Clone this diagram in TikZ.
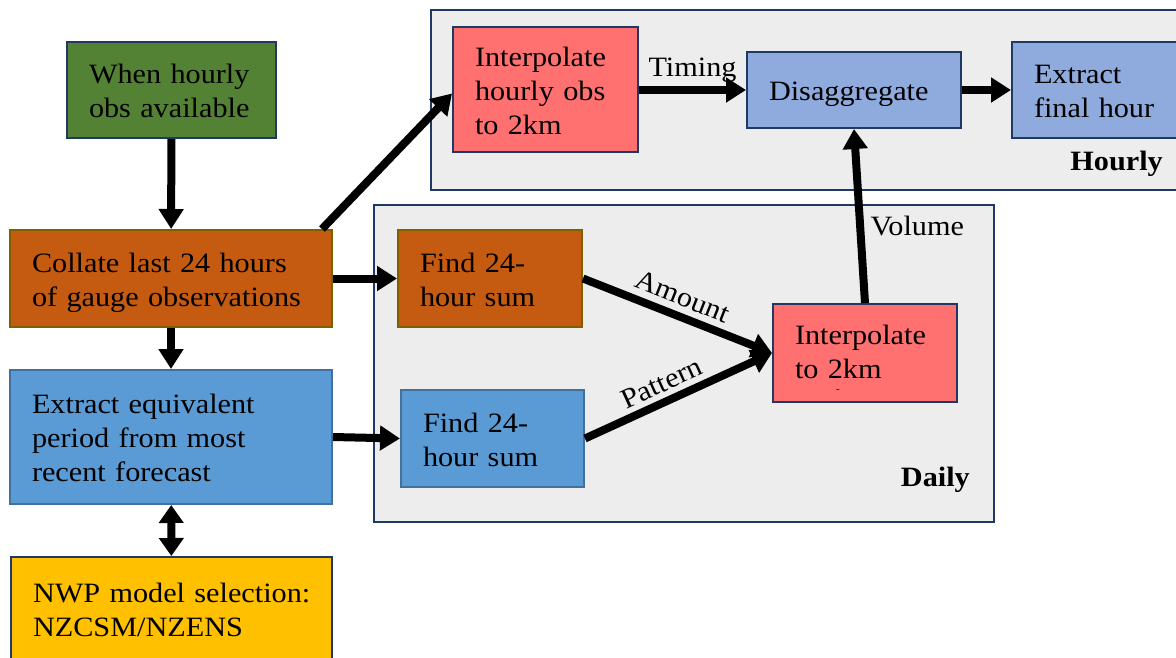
\documentclass[tikz,border=0pt]{standalone}
\usepackage{fontspec}
\setmainfont{Liberation Serif}[FakeStretch=1.08]
\usetikzlibrary{arrows.meta,calc}
\definecolor{navy}{HTML}{203864}
\definecolor{grpfill}{HTML}{EDEDED}
\definecolor{cgreen}{HTML}{548235}
\definecolor{corange}{HTML}{C55A11}
\definecolor{corangeb}{HTML}{7F6000}
\definecolor{cblue}{HTML}{5B9BD5}
\definecolor{cblueb}{HTML}{41719C}
\definecolor{cyellow}{HTML}{FFC000}
\definecolor{cred}{HTML}{FF7171}
\definecolor{cpale}{HTML}{8FAADC}
\begin{document}
\begin{tikzpicture}[x=1pt,y=-1pt,
  font=\fontsize{28}{34}\selectfont,
  box/.style={draw, line width=2pt, inner xsep=22pt, inner ysep=0pt, align=left, anchor=north west, outer sep=1pt,
    execute at begin node={\rule{0pt}{30.5pt}},
    execute at end node={\rule[-9.5pt]{0pt}{9.5pt}}},
  liftbox/.style={execute at end node={\rule[-14pt]{0pt}{14pt}}},
  grp/.style={draw=navy, fill=grpfill, line width=2pt, anchor=north west, inner sep=0pt},
  arr/.style={line width=8pt, -{Triangle[length=20pt,width=24pt]}},
  darr/.style={line width=8pt, {Triangle[length=18pt,width=24pt]}-{Triangle[length=18pt,width=24pt]}},
  lbl/.style={font=\fontsize{28}{34}\selectfont},
  glbl/.style={anchor=base east, inner sep=0pt, font=\fontsize{28}{34}\selectfont\bfseries}
]
\useasboundingbox (0,0) rectangle (1176,657);
\clip (0,0) rectangle (1176,657);

% groups
\node[grp, minimum width=780pt, minimum height=180pt] (hourlyG) at (430,9) {};
\node[grp, minimum width=620pt, minimum height=317pt] (dailyG) at (373,204) {};
\node[glbl] (hourlyL) at (1163,170) {Hourly};
\node[glbl] (dailyL) at (970,486) {Daily};

% left column
\node[box, fill=cgreen, draw=navy, text width=165pt, minimum height=96pt] (when) at (66,41) {When hourly\\obs available};
\node[box, fill=corange, draw=corangeb, text width=278pt, minimum height=97pt] (collate) at (9,229) {\mbox{Collate last 24 hours}\\\mbox{of gauge observations}};
\node[box, fill=cblue, draw=cblueb, text width=278pt, minimum height=134pt] (extract) at (9,369) {Extract equivalent\\period from most\\recent forecast};
\node[box, fill=cyellow, draw=navy, text width=277pt, minimum height=103pt] (nwp) at (10,556) {\mbox{NWP model selection:}\\NZCSM/NZENS};

% hourly group
\node[box, fill=cred, draw=navy, text width=141pt, minimum height=125pt] (interpH) at (452,26) {Interpolate\\hourly obs\\to 2km};
\node[box, fill=cpale, draw=navy, text width=170pt, minimum height=76pt] (disagg) at (746,51) {Disaggregate};
\node[box, fill=cpale, draw=navy, text width=170pt, minimum height=96pt] (final) at (1011,41) {Extract\\final hour};

% daily group
\node[box, fill=corange, draw=corangeb, text width=140pt, minimum height=97pt] (sumO) at (397,229) {Find 24-\\hour sum};
\node[box, fill=cblue, draw=cblueb, text width=139pt, minimum height=97pt] (sumB) at (400,389) {Find 24-\\hour sum};
\node[box, liftbox, fill=cred, draw=navy, text width=140pt, minimum height=98pt] (interpD) at (772,303) {Interpolate\\to 2km};
\node[font=\fontsize{10}{10}\selectfont, inner sep=0pt] (dash) at (838,391) {-};

% connectors
\draw[arr] (when) -- (collate);
\draw[arr] (collate) -- (extract);
\draw[darr] (extract) -- (nwp);
\draw[arr] ([xshift=-11pt]collate.north east) -- ([yshift=-4pt]interpH.west);
\draw[arr] (collate.east) -- (sumO.west);
\draw[arr] (extract.east) -- (sumB.west);
\draw[arr] (sumO.east) -- node[lbl, sloped, above=3pt, pos=0.49] {Amount} (interpD.west);
\draw[arr] (sumB.east) -- node[lbl, sloped, above=2pt, pos=0.45] {Pattern} (interpD.west);
\draw[arr] (interpD.north) -- node[lbl, right, pos=0.44, xshift=3pt] {Volume} (disagg.south);
\draw[arr] (interpH.east |- disagg.west) -- node[lbl, above] {Timing} (disagg.west);
\draw[arr] (disagg.east) -- (disagg.east -| final.west);
\end{tikzpicture}
\end{document}
